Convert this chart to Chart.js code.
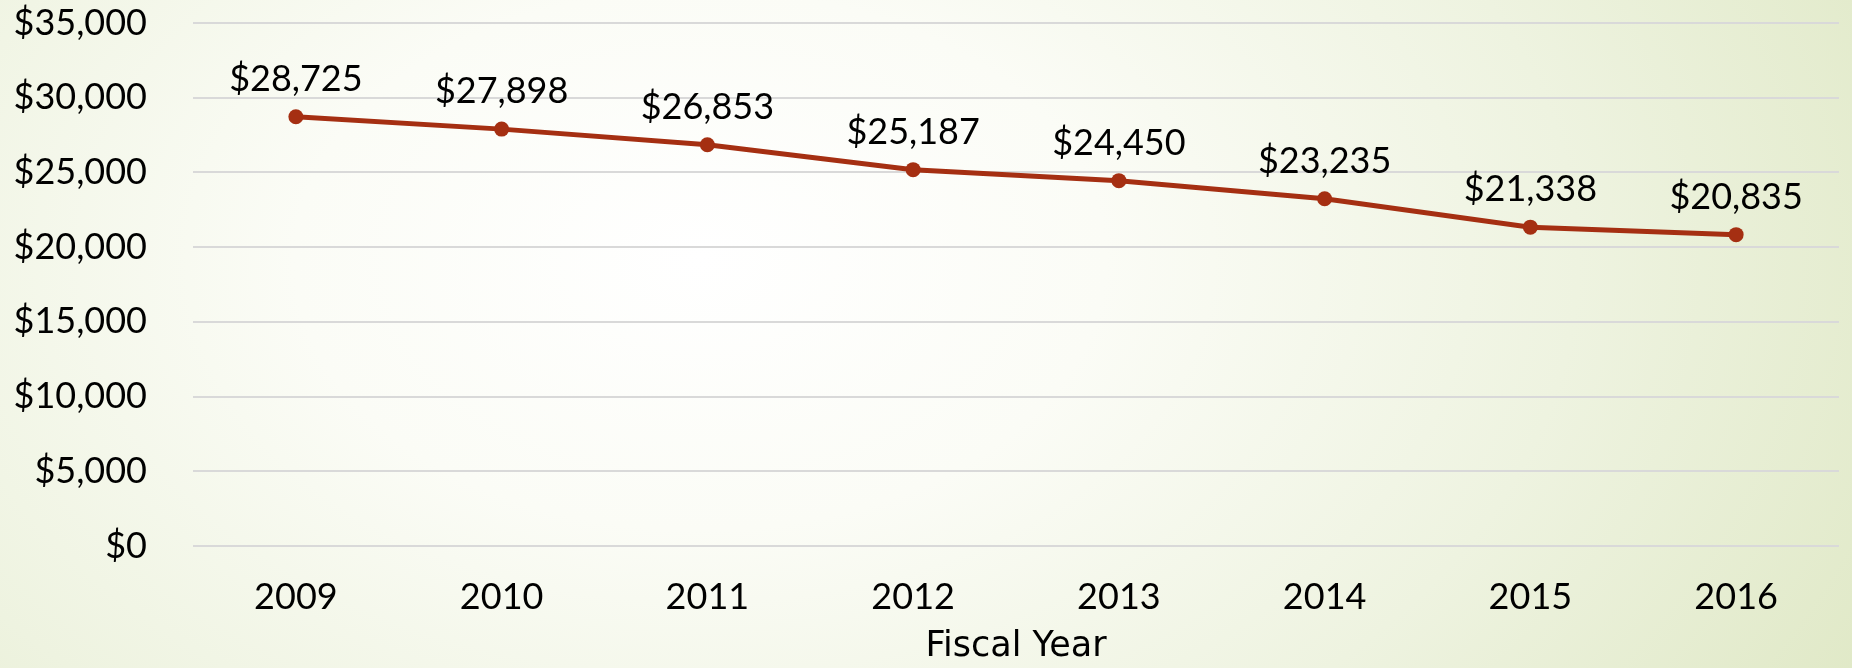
<!DOCTYPE html>
<html>
<head>
<meta charset="utf-8">
<script src="https://cdn.jsdelivr.net/npm/chart.js@4/dist/chart.umd.min.js"></script>
<style>
  html, body { margin: 0; padding: 0; }
  body {
    width: 1852px; height: 668px; overflow: hidden;
    background: radial-gradient(ellipse 1350px 900px at 700px 260px,
      #ffffff 0%, #fbfcf6 30%, #eef3e0 65%, #dfe8c5 100%);
  }
  #wrap { position: relative; width: 1852px; height: 668px; }
</style>
</head>
<body>
<div id="wrap"><canvas id="chart"></canvas></div>
<script>
// Fiscal years and the dollar amount for each year
const years = ['2009', '2010', '2011', '2012', '2013', '2014', '2015', '2016'];
const amounts = [28725, 27898, 26853, 25187, 24450, 23235, 21338, 20835];

// Value axis range and spacing
const yMin = 0;
const yMax = 35000;
const yStep = 5000;

const FONT = 'Lato, "DejaVu Sans", sans-serif';
const TITLE_FONT = '"DejaVu Sans", Lato, sans-serif';
const LINE_COLOR = '#a52f12';

const dollars = v => '$' + Number(v).toLocaleString('en-US');

// Writes each point's value above its marker
const valueLabels = {
  id: 'valueLabels',
  afterDatasetsDraw(chart) {
    const { ctx } = chart;
    const meta = chart.getDatasetMeta(0);
    ctx.save();
    ctx.font = '36px ' + FONT;
    ctx.fillStyle = '#000';
    ctx.textAlign = 'center';
    ctx.textBaseline = 'alphabetic';
    meta.data.forEach((pt, i) => {
      ctx.fillText(dollars(chart.data.datasets[0].data[i]), pt.x, pt.y - 26);
    });
    ctx.restore();
  }
};

new Chart(document.getElementById('chart'), {
  type: 'line',
  data: {
    labels: years,
    datasets: [{
      data: amounts,
      borderColor: LINE_COLOR,
      backgroundColor: LINE_COLOR,
      borderWidth: 5,
      pointRadius: 7.5,
      pointBorderWidth: 0,
      pointBackgroundColor: LINE_COLOR,
      tension: 0,
      fill: false
    }]
  },
  options: {
    responsive: true,
    maintainAspectRatio: false,
    animation: false,
    layout: { padding: { top: 23, right: 13, bottom: 0, left: 0 } },
    plugins: {
      legend: { display: false },
      tooltip: { enabled: false }
    },
    scales: {
      x: {
        offset: true,
        grid: { display: false, drawTicks: false },
        border: { display: false },
        ticks: {
          color: '#000',
          padding: 30,
          font: { family: FONT, size: 36 }
        },
        title: {
          display: true,
          text: 'Fiscal Year',
          color: '#000',
          padding: { top: 0, bottom: 0 },
          font: { family: TITLE_FONT, size: 35 }
        },
        afterFit(scale) {
          scale.height = 122;
          scale.paddingLeft = 0;
          scale.paddingRight = 0;
        }
      },
      y: {
        min: yMin,
        max: yMax,
        grid: { color: '#d9d9d9', lineWidth: 2, drawTicks: false },
        border: { display: false },
        ticks: {
          stepSize: yStep,
          color: '#000',
          padding: 46,
          font: { family: FONT, size: 36 },
          callback: v => dollars(v)
        },
        afterFit(scale) {
          scale.width = 193;
          scale.paddingTop = 0;
          scale.paddingBottom = 0;
        }
      }
    }
  },
  plugins: [valueLabels]
});
</script>
</body>
</html>
